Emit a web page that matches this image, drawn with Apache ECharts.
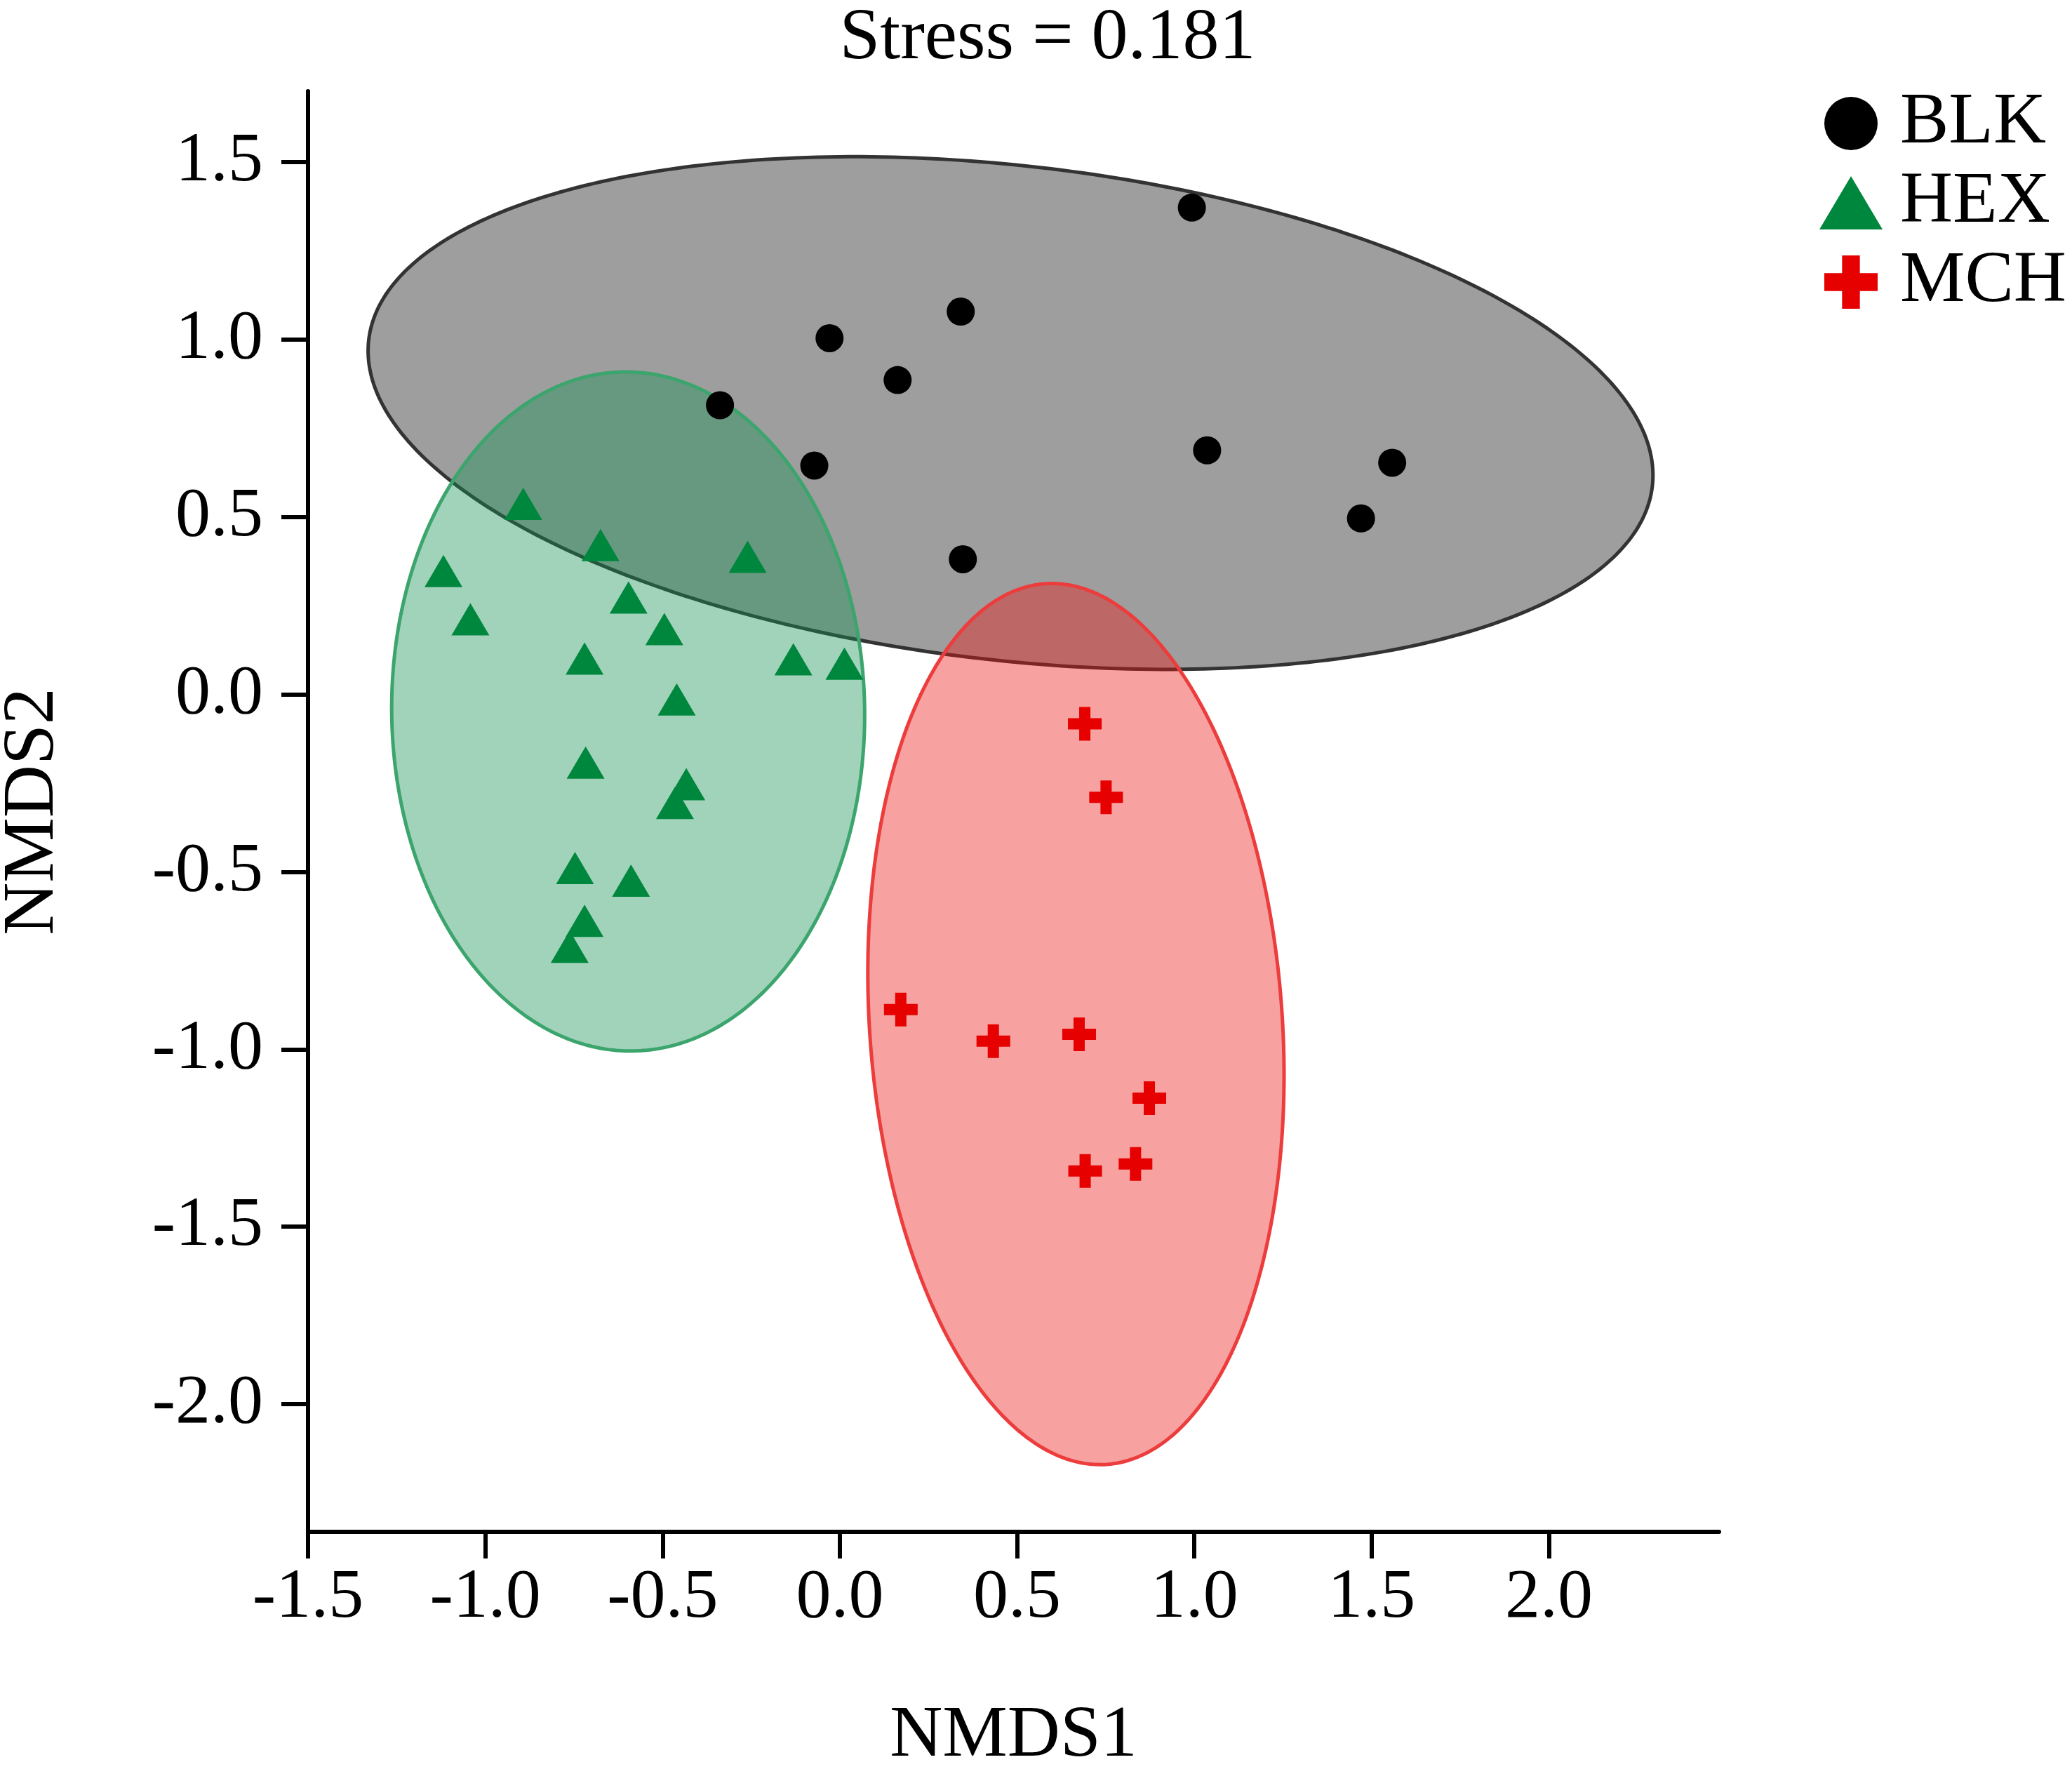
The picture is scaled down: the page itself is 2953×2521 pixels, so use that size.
<!DOCTYPE html>
<html>
<head>
<meta charset="utf-8">
<script src="https://cdn.jsdelivr.net/npm/echarts@6/dist/echarts.min.js"></script>
<style>
html,body{margin:0;padding:0;background:#ffffff;}
#chart{width:2953px;height:2521px;}
</style>
</head>
<body>
<div id="chart"></div>
<script>
// ---------- data ----------
const groups = ['BLK', 'HEX', 'MCH'];
const titleText = 'Stress = 0.181';
const xName = 'NMDS1';
const yName = 'NMDS2';
const xTicks = [-1.5, -1.0, -0.5, 0.0, 0.5, 1.0, 1.5, 2.0];
const yTicks = [-2.0, -1.5, -1.0, -0.5, 0.0, 0.5, 1.0, 1.5];
const xRange = [-1.5, 2.48];
const yRange = [-2.36, 1.7];

const blkPoints = [
  [0.993, 1.372], [-0.029, 1.004], [0.341, 1.079], [0.163, 0.886], [-0.338, 0.815],
  [-0.072, 0.645], [1.036, 0.688], [1.558, 0.653], [1.470, 0.496], [0.347, 0.381]
];
const hexPoints = [
  [-0.893, 0.537], [-0.675, 0.421], [-0.260, 0.388], [-1.118, 0.348], [-1.042, 0.212],
  [-0.596, 0.273], [-0.495, 0.184], [-0.720, 0.101], [-0.131, 0.099], [0.013, 0.087],
  [-0.460, -0.014], [-0.717, -0.192], [-0.433, -0.253], [-0.465, -0.306], [-0.747, -0.489],
  [-0.589, -0.525], [-0.720, -0.638], [-0.762, -0.711]
];
const mchPoints = [
  [0.691, -0.083], [0.751, -0.290], [0.172, -0.888], [0.433, -0.977], [0.675, -0.958],
  [0.873, -1.138], [0.834, -1.323], [0.692, -1.343]
];

// ellipses: [centerX, centerY, semiMajor, semiMinor, angleDeg]
const blkEllipse = [0.4815, 0.793, 1.822, 0.697, -6.48];
const hexEllipse = [-0.597, -0.048, 0.957, 0.667, 90.8];
const mchEllipse = [0.666, -0.929, 1.244, 0.582, 94.0];

// ---------- styling ----------
const FONT = "'Liberation Serif', 'Times New Roman', serif";
const crossPath = 'path://M1,0H2V1H3V2H2V3H1V2H0V1H1Z';
const colors = { BLK: '#000000', HEX: '#00873e', MCH: '#e60000' };

function ellipseSeries(name, params, fill, stroke, lw) {
  return {
    type: 'custom',
    name: name,
    silent: true,
    z: 1,
    encode: { x: 0, y: 1 },
    data: [params],
    renderItem: function (p, api) {
      const cx = api.value(0), cy = api.value(1), a = api.value(2), b = api.value(3);
      const ang = api.value(4) * Math.PI / 180;
      const ca = Math.cos(ang), sa = Math.sin(ang);
      const pts = [];
      const N = 360;
      for (let i = 0; i < N; i++) {
        const t = i / N * 2 * Math.PI;
        const u = a * Math.cos(t), v = b * Math.sin(t);
        pts.push(api.coord([cx + u * ca - v * sa, cy + u * sa + v * ca]));
      }
      return {
        type: 'polygon',
        shape: { points: pts },
        style: { fill: fill, stroke: stroke, lineWidth: lw }
      };
    }
  };
}

const chart = echarts.init(document.getElementById('chart'), null, { renderer: 'canvas' });

const axisCommon = {
  axisLine: { show: true, onZero: false, lineStyle: { color: '#000', width: 6 } },
  axisTick: { show: true, inside: false, length: 38, lineStyle: { color: '#000', width: 6 } },
  splitLine: { show: false },
  nameLocation: 'middle',
  nameTextStyle: { fontFamily: FONT, fontSize: 104, color: '#000' }
};

chart.setOption({
  backgroundColor: '#ffffff',
  animation: false,
  title: {
    text: titleText,
    left: 1493,
    textAlign: 'center',
    top: 4,
    padding: 0,
    textStyle: { fontFamily: FONT, fontSize: 104, fontWeight: 'normal', color: '#000' }
  },
  legend: {
    data: [
      { name: groups[0], icon: 'circle' },
      { name: groups[1], icon: 'triangle' },
      { name: groups[2], icon: crossPath }
    ],
    orient: 'vertical',
    left: 2593,
    top: 124,
    padding: 0,
    itemWidth: 90,
    itemHeight: 76,
    itemGap: 9,
    selectedMode: false,
    textStyle: { fontFamily: FONT, fontSize: 104, color: '#000', padding: [0, 0, 0, 20] }
  },
  grid: { left: 439, right: 503, top: 130, bottom: 338, containLabel: false, outerBoundsMode: 'none' },
  xAxis: Object.assign({}, axisCommon, {
    type: 'value',
    position: 'bottom',
    min: xRange[0],
    max: xRange[1],
    name: xName,
    nameGap: 240,
    axisTick: Object.assign({}, axisCommon.axisTick, { customValues: xTicks }),
    axisLabel: {
      customValues: xTicks,
      margin: 45,
      fontFamily: FONT, fontSize: 100, color: '#000',
      formatter: function (v) { return v.toFixed(1); }
    }
  }),
  yAxis: Object.assign({}, axisCommon, {
    type: 'value',
    position: 'left',
    min: yRange[0],
    max: yRange[1],
    name: yName,
    nameGap: 339,
    nameRotate: 90,
    axisTick: Object.assign({}, axisCommon.axisTick, { customValues: yTicks }),
    axisLabel: {
      customValues: yTicks,
      margin: 64,
      fontFamily: FONT, fontSize: 100, color: '#000',
      formatter: function (v) { return v.toFixed(1); }
    }
  }),
  series: [
    ellipseSeries('BLK ellipse', blkEllipse, 'rgba(0,0,0,0.38)', '#333333', 5),
    ellipseSeries('HEX ellipse', hexEllipse, 'rgba(20,145,85,0.40)', '#3ca56d', 5),
    ellipseSeries('MCH ellipse', mchEllipse, 'rgba(235,20,20,0.40)', '#ec3c3c', 5),
    {
      type: 'scatter', name: groups[0], z: 5, data: blkPoints,
      symbol: 'circle', symbolSize: 40,
      itemStyle: { color: colors.BLK, opacity: 1 }
    },
    {
      type: 'scatter', name: groups[1], z: 5, data: hexPoints,
      symbol: 'triangle', symbolSize: [54, 46],
      itemStyle: { color: colors.HEX, opacity: 1 }
    },
    {
      type: 'scatter', name: groups[2], z: 5, data: mchPoints,
      symbol: crossPath, symbolSize: 48, symbolKeepAspect: true,
      itemStyle: { color: colors.MCH, opacity: 1 }
    }
  ]
});
</script>
</body>
</html>
